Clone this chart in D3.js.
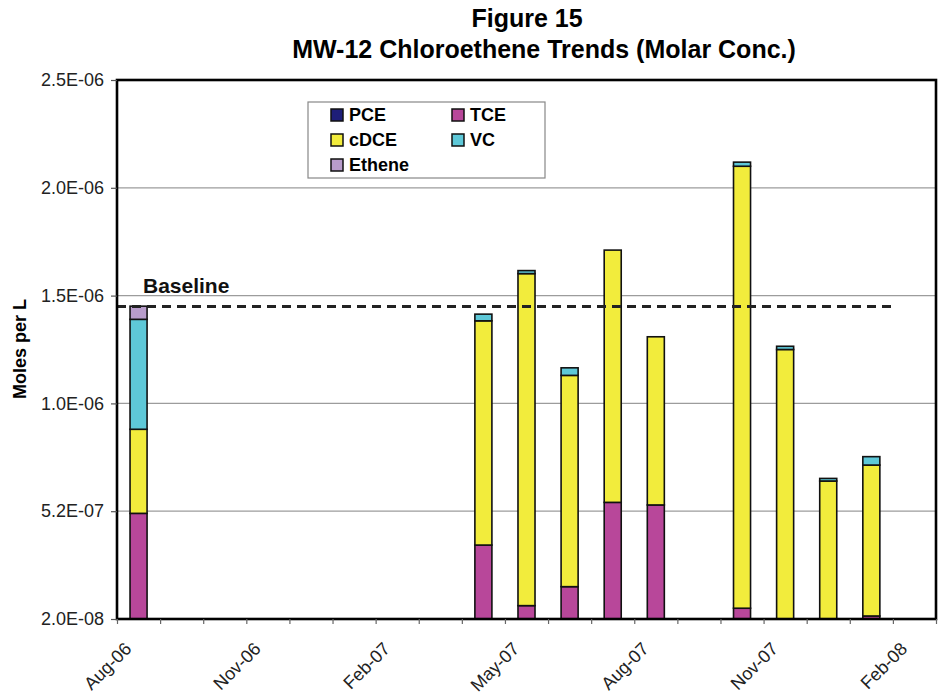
<!DOCTYPE html>
<html>
<head>
<meta charset="utf-8">
<script src="https://cdn.jsdelivr.net/npm/d3@7"></script>
<style>
  html, body { margin: 0; padding: 0; background: #fff; }
  svg { display: block; font-family: "Liberation Sans", Arial, sans-serif; }
</style>
</head>
<body>
<svg id="chart" width="943" height="696"></svg>
<script>
// ---------------- DATA ----------------
const titleLines = ["Figure 15", "MW-12 Chloroethene Trends (Molar Conc.)"];
const yAxisTitle = "Moles per L";
const seriesNames = ["PCE", "TCE", "cDCE", "VC", "Ethene"];
const seriesColors = ["#1e1e78", "#b8479a", "#f2ec3c", "#5ec8d8", "#b89ccb"];

// sampling months (bars sit in the middle of their month slot)
const sampleMonths = ["2006-08", "2007-04", "2007-05", "2007-06", "2007-07",
                      "2007-08", "2007-10", "2007-11", "2007-12", "2008-01"];
const pce    = [0,       0,       0,       0,       0,       0,       0,       0,       0,       0];
const tce    = [5.1e-7,  3.63e-7, 8.2e-8,  1.7e-7,  5.61e-7, 5.49e-7, 7.0e-8,  0,       0,       3.4e-8];
const cdce   = [3.9e-7,  1.04e-6, 1.54e-6, 9.8e-7,  1.17e-6, 7.8e-7,  2.05e-6, 1.27e-6, 6.6e-7,  7.0e-7];
const vc     = [5.1e-7,  3.1e-8,  1.4e-8,  3.5e-8,  0,       0,       1.9e-8,  1.5e-8,  1.2e-8,  3.9e-8];
const ethene = [6.1e-8,  0,       0,       0,       0,       0,       0,       0,       0,       0];

const baselineValue = 1.47e-6;
const baselineLabel = "Baseline";

const yTickValues = [2e-8, 5.2e-7, 1.02e-6, 1.52e-6, 2.02e-6, 2.52e-6];
const yTickLabels = ["2.0E-08", "5.2E-07", "1.0E-06", "1.5E-06", "2.0E-06", "2.5E-06"];

const axisStart = "2006-08", axisEnd = "2008-03";   // x-axis month range
const xLabelEvery = 3;                              // label every 3rd month

// ---------------- LAYOUT ----------------
const svg = d3.select("#chart");
const L = 117, R = 936, T = 80, B = 619;

const parseM = d3.utcParse("%Y-%m");
const fmtM = d3.utcFormat("%b-%y");
const boundaries = d3.utcMonth.range(parseM(axisStart), d3.utcMonth.offset(parseM(axisEnd), 1)).map(fmtM);
const slots = boundaries.slice(0, -1);

const xPoint = d3.scalePoint().domain(boundaries).range([L, R]);
const xBand = d3.scaleBand().domain(slots).range([L, R]).paddingInner(0.605).paddingOuter(0.3025);
const y = d3.scaleLinear().domain([yTickValues[0], yTickValues[yTickValues.length - 1]]).range([B, T]).clamp(true);

// gridlines
svg.append("g").selectAll("line").data(yTickValues.slice(1)).join("line")
  .attr("x1", L).attr("x2", R).attr("y1", d => y(d)).attr("y2", d => y(d))
  .attr("stroke", "#9c9c9c").attr("stroke-width", 1.3);

// stacked bars
const rows = sampleMonths.map((m, i) => ({
  month: fmtM(parseM(m)), PCE: pce[i], TCE: tce[i], cDCE: cdce[i], VC: vc[i], Ethene: ethene[i]
}));
const stacked = d3.stack().keys(seriesNames)(rows);
const gBars = svg.append("g");
stacked.forEach((layer, si) => {
  gBars.selectAll(null).data(layer.filter(d => d[1] - d[0] > 0)).join("rect")
    .attr("x", d => xBand(d.data.month))
    .attr("width", xBand.bandwidth())
    .attr("y", d => y(d[1]))
    .attr("height", d => Math.max(0, y(d[0]) - y(d[1])))
    .attr("fill", seriesColors[si])
    .attr("stroke", "#111").attr("stroke-width", 1.6);
});

// baseline dashed line
svg.append("line")
  .attr("x1", L).attr("x2", xBand(slots[slots.length - 2]) + xBand.bandwidth() + 16)
  .attr("y1", y(baselineValue)).attr("y2", y(baselineValue))
  .attr("stroke", "#222").attr("stroke-width", 3).attr("stroke-dasharray", "9,6");
svg.append("text").attr("x", 143).attr("y", y(baselineValue) - 13)
  .attr("font-size", 21).attr("font-weight", "bold").attr("fill", "#111").text(baselineLabel);

// plot frame
svg.append("rect").attr("x", L).attr("y", T).attr("width", R - L).attr("height", B - T)
  .attr("fill", "none").attr("stroke", "#000").attr("stroke-width", 2.6);

// y axis
const yAxis = d3.axisLeft(y).tickValues(yTickValues).tickSize(6).tickPadding(7)
  .tickFormat((d, i) => yTickLabels[i]);
const gy = svg.append("g").attr("transform", `translate(${L},0)`).call(yAxis);
gy.select(".domain").remove();
gy.selectAll("line").attr("stroke", "#555").attr("stroke-width", 1.2);
gy.selectAll("text").attr("font-size", 18).attr("fill", "#222").attr("font-family", "Liberation Sans, Arial, sans-serif");

// x axis
const xAxis = d3.axisBottom(xPoint).tickSize(5).tickPadding(0)
  .tickFormat((d, i) => i % xLabelEvery === 0 ? d : "");
const gx = svg.append("g").attr("transform", `translate(0,${B})`).call(xAxis);
gx.select(".domain").remove();
gx.selectAll("line").attr("stroke", "#666").attr("stroke-width", 1.2);
gx.selectAll("text")
  .attr("font-size", 18).attr("fill", "#222").attr("font-family", "Liberation Sans, Arial, sans-serif")
  .attr("text-anchor", "end").attr("dy", null).attr("y", null)
  .attr("transform", "translate(15,31) rotate(-45)");

// y axis title
svg.append("text").attr("transform", "translate(26,349) rotate(-90)")
  .attr("text-anchor", "middle").attr("font-size", 18).attr("font-weight", "bold").text(yAxisTitle);

// title
svg.append("text").attr("x", 527).attr("y", 27).attr("text-anchor", "middle")
  .attr("font-size", 25).attr("font-weight", "bold").text(titleLines[0]);
svg.append("text").attr("x", 544).attr("y", 58).attr("text-anchor", "middle")
  .attr("font-size", 25).attr("font-weight", "bold").text(titleLines[1]);

// legend
const lg = svg.append("g");
lg.append("rect").attr("x", 308).attr("y", 102).attr("width", 237).attr("height", 76)
  .attr("fill", "#fff").attr("stroke", "#888").attr("stroke-width", 1.2);
seriesNames.forEach((name, i) => {
  const col = i % 2, row = Math.floor(i / 2);
  const gx0 = 331 + col * 121, gy0 = 115 + row * 25;
  lg.append("rect").attr("x", gx0).attr("y", gy0 - 6).attr("width", 12).attr("height", 12)
    .attr("fill", seriesColors[i]).attr("stroke", "#111").attr("stroke-width", 1.5);
  lg.append("text").attr("x", gx0 + 18).attr("y", gy0).attr("dy", "0.36em")
    .attr("font-size", 18).attr("font-weight", "bold").text(name);
});
</script>
</body>
</html>
